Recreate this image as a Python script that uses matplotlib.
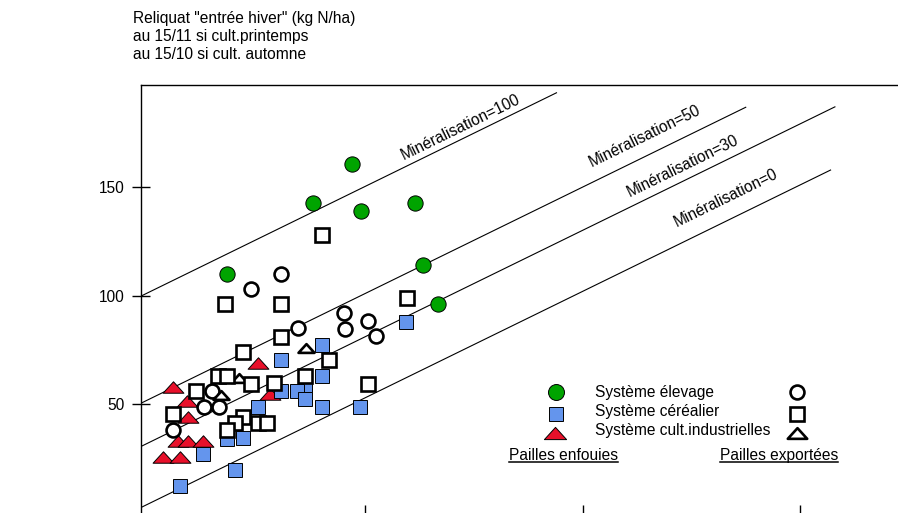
import matplotlib.pyplot as plt
from matplotlib.path import Path

plt.rcParams['font.family'] = ['Liberation Sans', 'DejaVu Sans']

# pailles enfouies (filled markers)
elev_enf_x = [94, 76, 98, 123, 36.5, 126.5, 133.5]
elev_enf_y = [160.5, 142.5, 139, 142.5, 110, 114, 96]

cere_enf_x = [119, 80, 61.5, 80, 72.5, 61.5, 68.5, 72.5, 51, 80, 97.5, 36.5, 44, 25.5, 40, 15]
cere_enf_y = [88, 77.5, 70.5, 63, 59, 56, 56, 52.5, 49, 49, 49, 34, 34.5, 27, 20, 12.5]

indu_enf_x = [11.5, 51, 18, 18.5, 56.5, 14, 18.5, 25.5, 7, 15]
indu_enf_y = [58, 69, 51.5, 44, 55, 33, 33, 33, 26, 26]

# pailles exportees (open markers)
elev_exp_x = [61.5, 47.5, 69, 90.5, 91, 101.5, 105, 29.5, 26, 33, 11.5]
elev_exp_y = [110, 103, 85, 92, 84.5, 88.5, 81.5, 56, 49, 49, 38]

cere_exp_x = [80, 35.5, 61.5, 119.5, 61.5, 44, 83.5, 32.5, 36.5, 47.5, 72.5, 58, 101.5,
              22.5, 11.5, 44, 40, 51, 55, 36.5]
cere_exp_y = [128, 96, 96, 99, 81, 74, 70.5, 63, 63, 59.5, 63, 60, 59.5,
              56, 45.5, 44, 41.5, 41.5, 41.5, 38]

indu_exp_x = [73, 42, 34]
indu_exp_y = [76, 62, 54.5]

# mineralisation lines: y = slope * x + intercept
mineral = [100, 50, 30, 0]
line_slope = 0.49
line_intercept = [101.3, 52.0, 32.1, 4.0]
line_x_end = [188, 275, 316, 314]
label_x = [117.6, 204.2, 221.8, 243.3]
label_y = [162.4, 159.4, 145.5, 131.7]

title_lines = ['Reliquat "entrée hiver" (kg N/ha)',
               'au 15/11 si cult.printemps',
               'au 15/10 si cult. automne']

green = '#00A400'
blue = '#6495ED'
red = '#E8102A'
fs = 11.2

tri = Path([(-1, -0.55), (1, -0.55), (0, 0.55), (0, 0)], closed=True)

fig = plt.figure(figsize=(8.98, 5.13), dpi=100)
ax = fig.add_axes([141 / 898, 0, 757 / 898, 428 / 513])
ax.set_xlim(-3, 345)
ax.set_ylim(0, 197)

for m, b, xe in zip(mineral, line_intercept, line_x_end):
    ax.plot([-3, xe], [line_slope * -3 + b, line_slope * xe + b], color='black', lw=0.8, zorder=1)

for m, lx, ly in zip(mineral, label_x, label_y):
    ax.text(lx, ly, f'Minéralisation={m}', fontsize=fs, rotation=26.1,
            transform_rotates_text=True, rotation_mode='anchor',
            ha='left', va='baseline')

filled = dict(ls='none', mec='black', mew=0.7)
openm = dict(ls='none', mfc='white', mec='black', mew=1.9)

ax.plot(elev_enf_x, elev_enf_y, marker='o', ms=11, mfc=green, zorder=2, **filled)
ax.plot(indu_enf_x, indu_enf_y, marker=tri, ms=15, mfc=red, zorder=3, **filled)
ax.plot(cere_enf_x, cere_enf_y, marker='s', ms=10, mfc=blue, zorder=4, **filled)
ax.plot(elev_exp_x, elev_exp_y, marker='o', ms=10, zorder=5, **openm)
ax.plot(indu_exp_x, indu_exp_y, marker=tri, ms=11.5, zorder=6, **openm)
ax.plot(cere_exp_x, cere_exp_y, marker='s', ms=9.5, zorder=7, **openm)

# legend drawn by hand
ax.plot([0.548], [0.2834], marker='o', ms=11.5, mfc=green, transform=ax.transAxes, clip_on=False, **filled)
ax.plot([0.548], [0.2313], marker='s', ms=10, mfc=blue, transform=ax.transAxes, clip_on=False, **filled)
ax.plot([0.547], [0.1876], marker=tri, ms=16, mfc=red, transform=ax.transAxes, clip_on=False, **filled)
ax.plot([0.8666], [0.2834], marker='o', ms=10, transform=ax.transAxes, clip_on=False, **openm)
ax.plot([0.8666], [0.2313], marker='s', ms=9.5, transform=ax.transAxes, clip_on=False, **openm)
ax.plot([0.8666], [0.1876], marker=tri, ms=14, transform=ax.transAxes, clip_on=False, **openm)

legend_labels = ['Système élevage', 'Système céréalier', 'Système cult.industrielles']
for lab, yy in zip(legend_labels, [0.2804, 0.236, 0.1923]):
    ax.text(0.5997, yy, lab, fontsize=fs, va='center', ha='left', transform=ax.transAxes)

t1 = ax.text(0.486, 0.1332, 'Pailles enfouies', fontsize=fs, va='center', transform=ax.transAxes)
t2 = ax.text(0.765, 0.1332, 'Pailles exportées', fontsize=fs, va='center', transform=ax.transAxes)

# title in 3 lines
for i, line in enumerate(title_lines):
    fig.text(133 / 898, 1 - (23.3 + 18 * i) / 513, line, fontsize=fs, va='baseline')

ax.set_yticks([50, 100, 150])
ax.set_xticks([100, 200, 300])
ax.tick_params(axis='y', direction='inout', length=13, width=1, pad=5, labelsize=fs)
ax.tick_params(axis='x', direction='in', length=6, width=1, labelbottom=False)
ax.spines['bottom'].set_visible(False)
ax.spines['right'].set_visible(False)
ax.spines['left'].set_linewidth(1)
ax.spines['top'].set_linewidth(1)

# underline the two captions
fig.canvas.draw()
r = fig.canvas.get_renderer()
for t in [t1, t2]:
    bb = t.get_window_extent(r).transformed(fig.transFigure.inverted())
    yl = bb.y0 + 1 / 513
    fig.add_artist(plt.Line2D([bb.x0, bb.x1], [yl, yl], color='black', lw=1.1))

fig.savefig('out.png', dpi=100)
